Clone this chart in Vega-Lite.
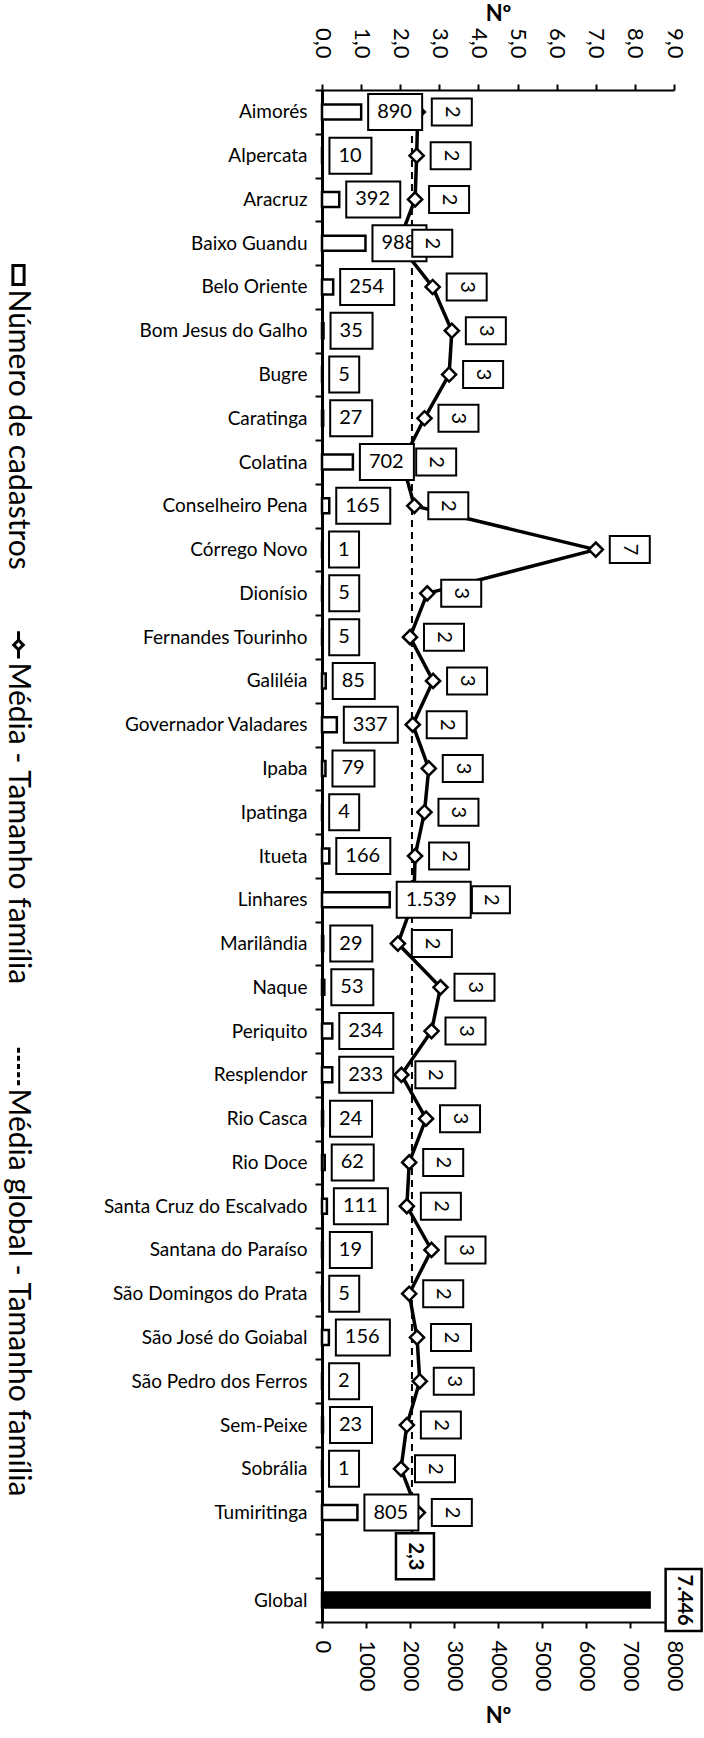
{
  "$schema": "https://vega.github.io/schema/vega-lite/v6.json",
  "autosize": {"type": "none"},
  "padding": {"left": 322, "top": 90, "right": 30, "bottom": 116},
  "width": 352,
  "height": 1532,
  "background": "white",
  "config": {
    "view": {"stroke": null},
    "font": "Lato",
    "style": {"guide-label": {"angle": 90}},
    "axis": {"labelFont": "Lato", "labelFontSize": 22, "labelColor": "black", "domainColor": "black", "domainWidth": 2, "tickColor": "black", "tickWidth": 2, "tickSize": 6, "grid": false, "titleFont": "Lato", "titleFontSize": 22, "titleFontWeight": "bold", "titleColor": "black", "labelOverlap": false},
    "legend": {"labelFont": "Lato", "labelFontSize": 30, "labelColor": "black", "labelLimit": 0, "padding": 0}
  },
  "datasets": {
    "municipios": [
      {"municipio": "Aimorés", "cadastros": 890, "media": 2.45},
      {"municipio": "Alpercata", "cadastros": 10, "media": 2.42},
      {"municipio": "Aracruz", "cadastros": 392, "media": 2.38},
      {"municipio": "Baixo Guandu", "cadastros": 988, "media": 1.95},
      {"municipio": "Belo Oriente", "cadastros": 254, "media": 2.83},
      {"municipio": "Bom Jesus do Galho", "cadastros": 35, "media": 3.32},
      {"municipio": "Bugre", "cadastros": 5, "media": 3.25},
      {"municipio": "Caratinga", "cadastros": 27, "media": 2.62},
      {"municipio": "Colatina", "cadastros": 702, "media": 2.05},
      {"municipio": "Conselheiro Pena", "cadastros": 165, "media": 2.36},
      {"municipio": "Córrego Novo", "cadastros": 1, "media": 7.0},
      {"municipio": "Dionísio", "cadastros": 5, "media": 2.69},
      {"municipio": "Fernandes Tourinho", "cadastros": 5, "media": 2.25},
      {"municipio": "Galiléia", "cadastros": 85, "media": 2.84},
      {"municipio": "Governador Valadares", "cadastros": 337, "media": 2.32},
      {"municipio": "Ipaba", "cadastros": 79, "media": 2.73},
      {"municipio": "Ipatinga", "cadastros": 4, "media": 2.62},
      {"municipio": "Itueta", "cadastros": 166, "media": 2.38},
      {"municipio": "Linhares", "cadastros": 1539, "media": 2.35},
      {"municipio": "Marilândia", "cadastros": 29, "media": 1.94},
      {"municipio": "Naque", "cadastros": 53, "media": 3.03},
      {"municipio": "Periquito", "cadastros": 234, "media": 2.8},
      {"municipio": "Resplendor", "cadastros": 233, "media": 2.03},
      {"municipio": "Rio Casca", "cadastros": 24, "media": 2.66},
      {"municipio": "Rio Doce", "cadastros": 62, "media": 2.23},
      {"municipio": "Santa Cruz do Escalvado", "cadastros": 111, "media": 2.17},
      {"municipio": "Santana do Paraíso", "cadastros": 19, "media": 2.8},
      {"municipio": "São Domingos do Prata", "cadastros": 5, "media": 2.23},
      {"municipio": "São José do Goiabal", "cadastros": 156, "media": 2.43},
      {"municipio": "São Pedro dos Ferros", "cadastros": 2, "media": 2.5},
      {"municipio": "Sem-Peixe", "cadastros": 23, "media": 2.17},
      {"municipio": "Sobrália", "cadastros": 1, "media": 2.02},
      {"municipio": "Tumiritinga", "cadastros": 805, "media": 2.45},
      {"municipio": "Global", "cadastros": 7446, "media": null}
    ],
    "global": [
      {"serie": "Média global - Tamanho família", "media": 2.3}
    ]
  },
  "layer": [
    {
      "data": {"name": "municipios"},
      "mark": {"type": "bar", "stroke": "black", "strokeWidth": 2.5, "size": 15},
      "encoding": {
        "x": {"field": "cadastros", "type": "quantitative", "scale": {"domain": [0, 8000], "nice": false},
          "axis": {"orient": "bottom", "values": [0, 1000, 2000, 3000, 4000, 5000, 6000, 7000, 8000], "format": "d", "labelAngle": 90, "labelAlign": "left", "labelBaseline": "middle", "labelPadding": 12, "labelOverlap": false, "title": "Nº", "titlePadding": 14}},
        "y": {"field": "municipio", "type": "nominal",
          "scale": {"domain": ["Aimorés", "Alpercata", "Aracruz", "Baixo Guandu", "Belo Oriente", "Bom Jesus do Galho", "Bugre", "Caratinga", "Colatina", "Conselheiro Pena", "Córrego Novo", "Dionísio", "Fernandes Tourinho", "Galiléia", "Governador Valadares", "Ipaba", "Ipatinga", "Itueta", "Linhares", "Marilândia", "Naque", "Periquito", "Resplendor", "Rio Casca", "Rio Doce", "Santa Cruz do Escalvado", "Santana do Paraíso", "São Domingos do Prata", "São José do Goiabal", "São Pedro dos Ferros", "Sem-Peixe", "Sobrália", "Tumiritinga", " ", "Global"], "paddingInner": 0, "paddingOuter": 0},
          "axis": {"title": null, "tickBand": "extent", "labelAngle": 0, "labelFontSize": 19, "labelLimit": 400, "labelPadding": 8, "tickSize": 7, "domainWidth": 3}},
        "fill": {"condition": {"test": "datum.municipio === 'Global'", "value": "black"}, "value": "white"}
      }
    },
    {
      "layer": [
        {
          "data": {"name": "municipios"},
          "transform": [{"filter": "datum.municipio !== 'Global'"}],
          "mark": {"type": "line", "color": "black", "strokeWidth": 3.5},
          "encoding": {
            "x": {"field": "media", "type": "quantitative", "scale": {"domain": [0, 9], "nice": false},
              "axis": {"orient": "top", "values": [0, 1, 2, 3, 4, 5, 6, 7, 8, 9], "labelExpr": "replace(format(datum.value, '.1f'), '.', ',')", "labelAngle": 90, "labelAlign": "right", "labelBaseline": "middle", "labelPadding": 26, "labelOverlap": false, "labelBound": false, "labelFlush": false, "tickCount": 10, "title": "Nº", "titlePadding": 2}},
            "y": {"field": "municipio", "type": "nominal"}
          }
        },
        {
          "data": {"name": "global"},
          "mark": {"type": "rule", "strokeDash": [7, 5], "strokeWidth": 2, "color": "black"},
          "encoding": {
            "x": {"field": "media", "type": "quantitative",
              "axis": {"orient": "top", "values": [0, 1, 2, 3, 4, 5, 6, 7, 8, 9], "labelExpr": "replace(format(datum.value, '.1f'), '.', ',')", "labelAngle": 90, "labelAlign": "right", "labelBaseline": "middle", "labelPadding": 26, "labelOverlap": false, "labelBound": false, "labelFlush": false, "tickCount": 10, "title": "Nº", "titlePadding": 2}},
            "y": {"datum": "Aimorés", "type": "nominal"},
            "y2": {"datum": " "}
          }
        },
        {
          "data": {"name": "municipios"},
          "transform": [{"filter": "datum.municipio !== 'Global'"}],
          "mark": {"type": "point", "shape": "diamond", "size": 200, "filled": true, "fill": "white", "stroke": "black", "strokeWidth": 2.5, "opacity": 1},
          "encoding": {
            "x": {"field": "media", "type": "quantitative",
              "axis": {"orient": "top", "values": [0, 1, 2, 3, 4, 5, 6, 7, 8, 9], "labelExpr": "replace(format(datum.value, '.1f'), '.', ',')", "labelAngle": 90, "labelAlign": "right", "labelBaseline": "middle", "labelPadding": 26, "labelOverlap": false, "labelBound": false, "labelFlush": false, "tickCount": 10, "title": "Nº", "titlePadding": 2}},
            "y": {"field": "municipio", "type": "nominal"}
          }
        }
      ]
    },
    {
      "data": {"name": "municipios"},
      "layer": [
        {
          "transform": [{"filter": "datum.cadastros < 10"}],
          "mark": {"type": "bar", "fill": "white", "stroke": "black", "strokeWidth": 2, "size": 36, "xOffset": 7, "x2Offset": 37},
          "encoding": {
            "x": {"field": "cadastros", "type": "quantitative", "scale": {"domain": [0, 8000], "nice": false}, "axis": null},
            "x2": {"field": "cadastros"},
            "y": {"field": "municipio", "type": "nominal"}
          }
        },
        {
          "transform": [{"filter": "datum.cadastros >= 10 && datum.cadastros < 100"}],
          "mark": {"type": "bar", "fill": "white", "stroke": "black", "strokeWidth": 2, "size": 36, "xOffset": 7, "x2Offset": 49},
          "encoding": {
            "x": {"field": "cadastros", "type": "quantitative", "axis": null},
            "x2": {"field": "cadastros"},
            "y": {"field": "municipio", "type": "nominal"}
          }
        },
        {
          "transform": [{"filter": "datum.cadastros >= 100 && datum.cadastros < 1000"}],
          "mark": {"type": "bar", "fill": "white", "stroke": "black", "strokeWidth": 2, "size": 36, "xOffset": 7, "x2Offset": 61},
          "encoding": {
            "x": {"field": "cadastros", "type": "quantitative", "axis": null},
            "x2": {"field": "cadastros"},
            "y": {"field": "municipio", "type": "nominal"}
          }
        },
        {
          "transform": [{"filter": "datum.cadastros >= 1000 && datum.municipio !== 'Global'"}],
          "mark": {"type": "bar", "fill": "white", "stroke": "black", "strokeWidth": 2, "size": 36, "xOffset": 7, "x2Offset": 81},
          "encoding": {
            "x": {"field": "cadastros", "type": "quantitative", "axis": null},
            "x2": {"field": "cadastros"},
            "y": {"field": "municipio", "type": "nominal"}
          }
        },
        {
          "transform": [{"filter": "datum.municipio !== 'Global'"}, {"calculate": "replace(format(datum.cadastros, ',d'), ',', '.')", "as": "rotulo"}],
          "mark": {"type": "text", "align": "left", "baseline": "middle", "xOffset": 16, "fontSize": 20, "color": "black"},
          "encoding": {
            "x": {"field": "cadastros", "type": "quantitative", "axis": null},
            "y": {"field": "municipio", "type": "nominal"},
            "text": {"field": "rotulo"}
          }
        },
        {
          "transform": [{"filter": "datum.municipio === 'Global'"}],
          "mark": {"type": "bar", "fill": "white", "stroke": "black", "strokeWidth": 2.5, "size": 62, "xOffset": 16, "x2Offset": 52},
          "encoding": {
            "x": {"field": "cadastros", "type": "quantitative", "axis": null},
            "x2": {"field": "cadastros"},
            "y": {"field": "municipio", "type": "nominal"}
          }
        },
        {
          "transform": [{"filter": "datum.municipio === 'Global'"}, {"calculate": "replace(format(datum.cadastros, ',d'), ',', '.')", "as": "rotulo"}],
          "mark": {"type": "text", "align": "center", "baseline": "middle", "angle": 90, "xOffset": 34, "fontSize": 20, "fontWeight": "bold", "color": "black"},
          "encoding": {
            "x": {"field": "cadastros", "type": "quantitative", "axis": null},
            "y": {"field": "municipio", "type": "nominal"},
            "text": {"field": "rotulo"}
          }
        }
      ]
    },
    {
      "layer": [
        {
          "data": {"name": "municipios"},
          "transform": [{"filter": "datum.municipio !== 'Global' && datum.municipio !== 'Linhares'"}],
          "mark": {"type": "bar", "fill": "white", "stroke": "black", "strokeWidth": 2, "size": 27, "xOffset": 14, "x2Offset": 54},
          "encoding": {
            "x": {"field": "media", "type": "quantitative", "scale": {"domain": [0, 9], "nice": false}, "axis": null},
            "x2": {"field": "media"},
            "y": {"field": "municipio", "type": "nominal"}
          }
        },
        {
          "data": {"name": "municipios"},
          "transform": [{"filter": "datum.municipio !== 'Global' && datum.municipio !== 'Linhares'"}],
          "mark": {"type": "text", "align": "center", "baseline": "middle", "angle": 90, "xOffset": 34, "fontSize": 20, "color": "black"},
          "encoding": {
            "x": {"field": "media", "type": "quantitative", "axis": null},
            "y": {"field": "municipio", "type": "nominal"},
            "text": {"field": "media", "type": "quantitative", "format": ".0f"}
          }
        },
        {
          "data": {"name": "municipios"},
          "transform": [{"filter": "datum.municipio === 'Linhares'"}],
          "mark": {"type": "bar", "fill": "white", "stroke": "black", "strokeWidth": 2, "size": 27, "xOffset": 58, "x2Offset": 96},
          "encoding": {
            "x": {"field": "media", "type": "quantitative", "axis": null},
            "x2": {"field": "media"},
            "y": {"field": "municipio", "type": "nominal"}
          }
        },
        {
          "data": {"name": "municipios"},
          "transform": [{"filter": "datum.municipio === 'Linhares'"}],
          "mark": {"type": "text", "align": "center", "baseline": "middle", "angle": 90, "xOffset": 77, "fontSize": 20, "color": "black"},
          "encoding": {
            "x": {"field": "media", "type": "quantitative", "axis": null},
            "y": {"field": "municipio", "type": "nominal"},
            "text": {"field": "media", "type": "quantitative", "format": ".0f"}
          }
        },
        {
          "data": {"name": "global"},
          "mark": {"type": "bar", "fill": "white", "stroke": "black", "strokeWidth": 2.5, "size": 46, "xOffset": -16, "x2Offset": 22},
          "encoding": {
            "x": {"field": "media", "type": "quantitative", "axis": null},
            "x2": {"field": "media"},
            "y": {"datum": " ", "type": "nominal"}
          }
        },
        {
          "data": {"name": "global"},
          "transform": [{"calculate": "replace(format(datum.media, '.1f'), '.', ',')", "as": "rotulo"}],
          "mark": {"type": "text", "align": "center", "baseline": "middle", "angle": 90, "xOffset": 3, "fontSize": 20, "fontWeight": "bold", "color": "black"},
          "encoding": {
            "x": {"field": "media", "type": "quantitative", "axis": null},
            "y": {"datum": " ", "type": "nominal"},
            "text": {"field": "rotulo"}
          }
        }
      ]
    },
    {
      "data": {"name": "global"},
      "transform": [{"filter": "false"}],
      "mark": {"type": "point", "size": 1024, "filled": false, "stroke": "black", "strokeWidth": 3, "opacity": 1},
      "encoding": {
        "shape": {
          "datum": "Número de cadastros", "type": "nominal",
          "scale": {
            "domain": ["Número de cadastros", "Média - Tamanho família", "Média global - Tamanho família"],
            "range": [
              "M-0.35,-1.5H0.35V-0.31H-0.35Z",
              "M0,-1.95V-1.4M0,-0.8V-0.25M0,-1.4L0.3,-1.1L0,-0.8L-0.3,-1.1Z",
              "M0,-2.55V-2.24M0,-2.04V-1.73M0,-1.53V-1.22M0,-1.02V-0.71M0,-0.51V-0.2"
            ]
          },
          "legend": {
            "title": null, "orient": "none", "legendX": -321, "legendY": 182, "direction": "vertical",
            "symbolSize": 1024, "symbolStrokeWidth": 3, "symbolStrokeColor": "black", "symbolOpacity": 1,
            "labelFontSize": 30, "labelOffset": -18, "labelLimit": 0, "rowPadding": 55, "padding": 0
          }
        }
      }
    }
  ],
  "resolve": {"scale": {"x": "independent"}, "axis": {"x": "independent"}}
}
